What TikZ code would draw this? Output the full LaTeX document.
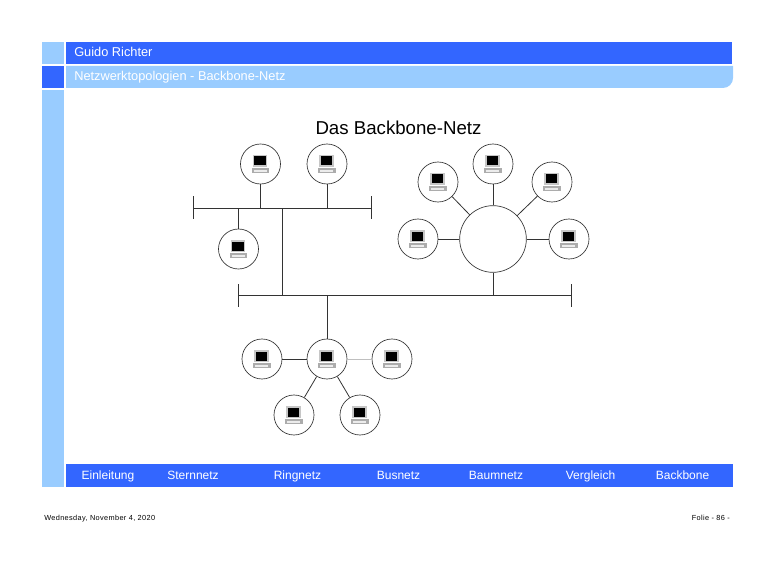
\documentclass[tikz,border=0pt]{standalone}
\usepackage{fontspec}
\setmainfont{Liberation Sans}
\usepackage{xcolor}
\usetikzlibrary{positioning, calc}
\definecolor{darkbar}{HTML}{3366FF}
\definecolor{lightbar}{HTML}{99CCFF}
\definecolor{linegray}{HTML}{333333}
\newfontfamily\footfont[LetterSpace=5]{Liberation Sans}
\tikzset{
    host/.style={circle, draw=linegray, line width=0.5pt, minimum size=30pt, inner sep=0pt},
    hub/.style={circle, draw=linegray, line width=0.5pt, minimum size=50pt, inner sep=0pt},
    cable/.style={draw=linegray, line width=0.6pt},
    headtext/.style={white, font=\fontsize{9.6}{11}\selectfont, anchor=base west, inner sep=0pt},
    tabtext/.style={white, font=\fontsize{9}{11}\selectfont, anchor=base, inner sep=0pt},
    smalltext/.style={black, font=\fontsize{5.5}{8}\selectfont\footfont, anchor=base, inner sep=0pt},
    computer/.pic={
        \fill[gray!45] (-8,-9) rectangle (6.5,3);
        \fill[black] (-6.5,-7.5) rectangle (5,1.5);
        \fill[gray!65] (-9,4) rectangle (8.5,9);
        \draw[gray!15, line width=0.4pt] (-7,6) -- (6,6);
        \draw[gray!15, line width=0.4pt] (-7,7.5) -- (6,7.5);
    }
}
\begin{document}
\begin{tikzpicture}[x=0.75pt, y=-0.75pt]
    \useasboundingbox (0,0) rectangle (780,570);

    % Left column
    \fill[lightbar] (42,42) rectangle (64,64);
    \fill[darkbar] (42,66) rectangle (64,88);
    \fill[lightbar] (42,90) rectangle (64,487);

    % Header and footer bars
    \fill[darkbar] (66,42) rectangle (732,64);
    \fill[lightbar] (66,66) -- (733,66) -- (733,78) arc (0:90:10) -- (66,88) -- cycle;
    \fill[darkbar] (66,464) rectangle (733,487);

    % Header text
    \node[headtext] (author) at (74,57) {Guido Richter};
    \node[headtext] (topic) at (74,81) {Netzwerktopologien - Backbone-Netz};
    \node[font=\fontsize{14}{16}\selectfont, inner sep=0pt] (title) at (398.5,128) {Das Backbone-Netz};

    % Upper bus
    \node[host] (busA) at (260.5,164) {};
    \node[host] (busB) at (327,164) {};
    \node[host] (busC) at (238.5,249) {};
    \coordinate (busL) at (193,208);
    \coordinate (busR) at (371,208);
    \coordinate (busJoin) at (282,208);

    % Star
    \node[hub] (center) at (493,239) {};
    \node[host] (starA) at (418,239) {};
    \node[host] (starB) at (438,182) {};
    \node[host] (starC) at (493,164) {};
    \node[host] (starD) at (552,182) {};
    \node[host] (starE) at (569,239) {};

    % Backbone
    \coordinate (backL) at (238,295);
    \coordinate (backR) at (571,295);

    % Lower star
    \node[host] (treeA) at (262,359) {};
    \node[host] (treeB) at (327,359) {};
    \node[host] (treeC) at (392,359) {};
    \node[host] (treeD) at (294,415) {};
    \node[host] (treeE) at (360,415) {};

    % Computers
    \foreach \name in {busA, busB, busC, starA, starB, starC, starD, starE, treeA, treeB, treeC, treeD, treeE}
        \pic at (\name) {computer};

    % Cables
    \draw[cable] (busL) -- (busR);
    \draw[cable] ($(busL)+(0,-12)$) -- ($(busL)+(0,11)$);
    \draw[cable] ($(busR)+(0,-12)$) -- ($(busR)+(0,11)$);
    \draw[cable] (busA) -- (busA |- busL);
    \draw[cable] (busB) -- (busB |- busL);
    \draw[cable] (busC) -- (busC |- busL);
    \draw[cable] (backL) -- (backR);
    \draw[cable] ($(backL)+(0,-11)$) -- ($(backL)+(0,12)$);
    \draw[cable] ($(backR)+(0,-11)$) -- ($(backR)+(0,12)$);
    \draw[cable] (busJoin) -- (busJoin |- backL);
    \draw[cable] (center) -- (center |- backL);
    \draw[cable] (treeB) -- (treeB |- backL);
    \foreach \name in {starA, starB, starC, starD, starE}
        \draw[cable] (center) -- (\name);
    \foreach \name in {treeA, treeD, treeE}
        \draw[cable] (treeB) -- (\name);
    \draw[cable, draw=gray!50] (treeB) -- (treeC);

    % Footer tabs
    \node[tabtext] (tabA) at (108,479.5) {Einleitung};
    \node[tabtext] (tabB) at (193,479.5) {Sternnetz};
    \node[tabtext] (tabC) at (297.5,479.5) {Ringnetz};
    \node[tabtext] (tabD) at (398.5,479.5) {Busnetz};
    \node[tabtext] (tabE) at (496,479.5) {Baumnetz};
    \node[tabtext] (tabF) at (590.5,479.5) {Vergleich};
    \node[tabtext] (tabG) at (682.5,479.5) {Backbone};

    % Date and page
    \node[smalltext, anchor=base west] (date) at (44,520) {Wednesday, November 4, 2020};
    \node[smalltext, anchor=base east] (page) at (730,520) {Folie - 86 -};
\end{tikzpicture}
\end{document}
